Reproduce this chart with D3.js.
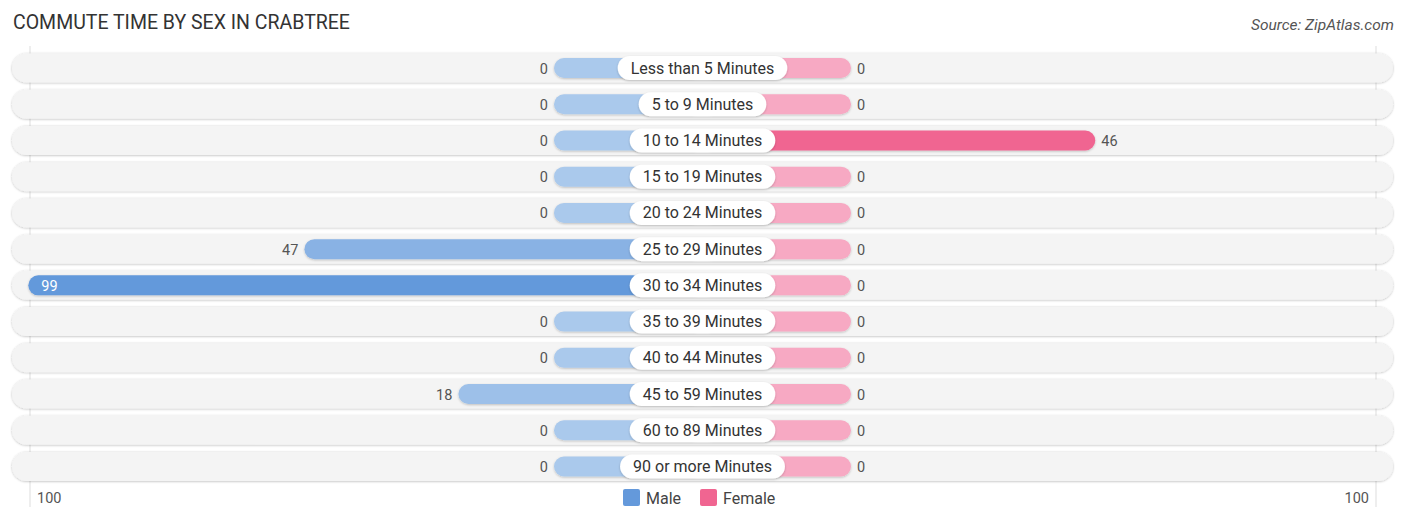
<!DOCTYPE html>
<html>
<head>
<meta charset="utf-8">
<script src="https://cdn.jsdelivr.net/npm/d3@7"></script>
<style>
  body { margin: 0; background: #fff; }
  text { font-family: Roboto, "Noto Sans", sans-serif; }
</style>
</head>
<body>
<svg id="chart" width="1406" height="523"></svg>
<script>
const categories = [
  "Less than 5 Minutes", "5 to 9 Minutes", "10 to 14 Minutes", "15 to 19 Minutes",
  "20 to 24 Minutes", "25 to 29 Minutes", "30 to 34 Minutes", "35 to 39 Minutes",
  "40 to 44 Minutes", "45 to 59 Minutes", "60 to 89 Minutes", "90 or more Minutes"
];
const maleValues = [0, 0, 0, 0, 0, 47, 99, 0, 0, 18, 0, 0];
const femaleValues = [0, 0, 46, 0, 0, 0, 0, 0, 0, 0, 0, 0];
const axisLabels = ["100", "100"];
const legendLabels = ["Male", "Female"];

const svg = d3.select("#chart");
const cx = 702.5;

const defs = svg.append("defs");
const shadow = defs.append("filter").attr("id", "shadow")
  .attr("x", "-10%").attr("y", "-30%").attr("width", "120%").attr("height", "160%");
shadow.append("feDropShadow").attr("dx", 0).attr("dy", 1).attr("stdDeviation", 1.2)
  .attr("flood-color", "#000").attr("flood-opacity", 0.22);
const rowShadow = defs.append("filter").attr("id", "rowShadow")
  .attr("x", "-5%").attr("y", "-30%").attr("width", "110%").attr("height", "160%");
rowShadow.append("feDropShadow").attr("dx", 0).attr("dy", 0.5).attr("stdDeviation", 1.2)
  .attr("flood-color", "#000").attr("flood-opacity", 0.28);

// offset from centre for a value
const off = d3.scaleLinear().domain([0, 100]).range([148.5, 679.5]);
const y = d3.scaleBand().domain(categories).range([49.9, 484.6]).padding(0);

// colour intensity scales with each series' own max
const maleColor = d3.scaleLinear().domain([0, d3.max(maleValues)]).range(["#aac9ec", "#6499db"]);
const femaleColor = d3.scaleLinear().domain([0, d3.max(femaleValues)]).range(["#f7a9c3", "#f06591"]);

// title + source
svg.append("text").attr("x", 13).attr("y", 29)
  .attr("font-size", 19.5).attr("fill", "#333")
  .text("COMMUTE TIME BY SEX IN CRABTREE");
svg.append("text").attr("x", 1394).attr("y", 30)
  .attr("text-anchor", "end").attr("font-size", 15.5).attr("font-style", "italic").attr("fill", "#555")
  .text("Source: ZipAtlas.com");

// gridlines
[cx - 672.5, cx + 673.5].forEach(gx => {
  svg.append("line").attr("x1", gx).attr("x2", gx).attr("y1", 46).attr("y2", 507)
    .attr("stroke", "#ddd").attr("stroke-width", 1);
});

const rows = svg.selectAll("g.row")
  .data(categories)
  .enter()
  .append("g")
  .attr("class", "row")
  .attr("transform", d => `translate(0,${y(d) + y.bandwidth() / 2})`);

rows.append("rect")
  .attr("x", 12).attr("y", -14.5).attr("width", 1381).attr("height", 29).attr("rx", 14.5)
  .attr("fill", "#f4f4f4").attr("filter", "url(#rowShadow)");

// male bars
rows.append("rect")
  .attr("x", (d, i) => cx - off(maleValues[i]))
  .attr("y", -10).attr("height", 20)
  .attr("width", (d, i) => off(maleValues[i]))
  .attr("rx", 10)
  .attr("fill", (d, i) => maleColor(maleValues[i]))
  .attr("filter", "url(#shadow)");

// female bars
rows.append("rect")
  .attr("x", cx)
  .attr("y", -10).attr("height", 20)
  .attr("width", (d, i) => off(femaleValues[i]))
  .attr("rx", 10)
  .attr("fill", (d, i) => femaleColor(femaleValues[i]))
  .attr("filter", "url(#shadow)");

// category labels
rows.each(function (d) {
  const g = d3.select(this);
  const t = g.append("text").attr("x", cx).attr("y", 5.5)
    .attr("text-anchor", "middle").attr("font-size", 16).attr("fill", "#333").text(d);
  const w = t.node().getComputedTextLength() + 26;
  g.insert("rect", "text")
    .attr("x", cx - w / 2).attr("y", -12).attr("width", w).attr("height", 24).attr("rx", 12)
    .attr("fill", "#fff").attr("filter", "url(#shadow)");
});

// value labels
rows.append("text")
  .attr("x", (d, i) => {
    const v = maleValues[i];
    return off(v) > 600 ? cx - off(v) + 13 : cx - off(v) - 6;
  })
  .attr("y", 5.5)
  .attr("text-anchor", (d, i) => off(maleValues[i]) > 600 ? "start" : "end")
  .attr("font-size", 14.5)
  .attr("fill", (d, i) => off(maleValues[i]) > 600 ? "#fff" : "#555")
  .text((d, i) => maleValues[i]);

rows.append("text")
  .attr("x", (d, i) => {
    const v = femaleValues[i];
    return off(v) > 600 ? cx + off(v) - 13 : cx + off(v) + 6;
  })
  .attr("y", 5.5)
  .attr("text-anchor", (d, i) => off(femaleValues[i]) > 600 ? "end" : "start")
  .attr("font-size", 14.5)
  .attr("fill", (d, i) => off(femaleValues[i]) > 600 ? "#fff" : "#555")
  .text((d, i) => femaleValues[i]);

// axis labels
svg.append("text").attr("x", 37).attr("y", 503).attr("font-size", 14.5).attr("fill", "#555").text(axisLabels[0]);
svg.append("text").attr("x", 1369).attr("y", 503).attr("text-anchor", "end")
  .attr("font-size", 14.5).attr("fill", "#555").text(axisLabels[1]);

// legend
const legendColors = ["#6499db", "#f06591"];
const legendX = [623, 700];
legendLabels.forEach((lab, i) => {
  svg.append("rect").attr("x", legendX[i]).attr("y", 489).attr("width", 17).attr("height", 17)
    .attr("rx", 2).attr("fill", legendColors[i]);
  svg.append("text").attr("x", legendX[i] + 23).attr("y", 503.5).attr("font-size", 16)
    .attr("fill", "#444").text(lab);
});
</script>
</body>
</html>
